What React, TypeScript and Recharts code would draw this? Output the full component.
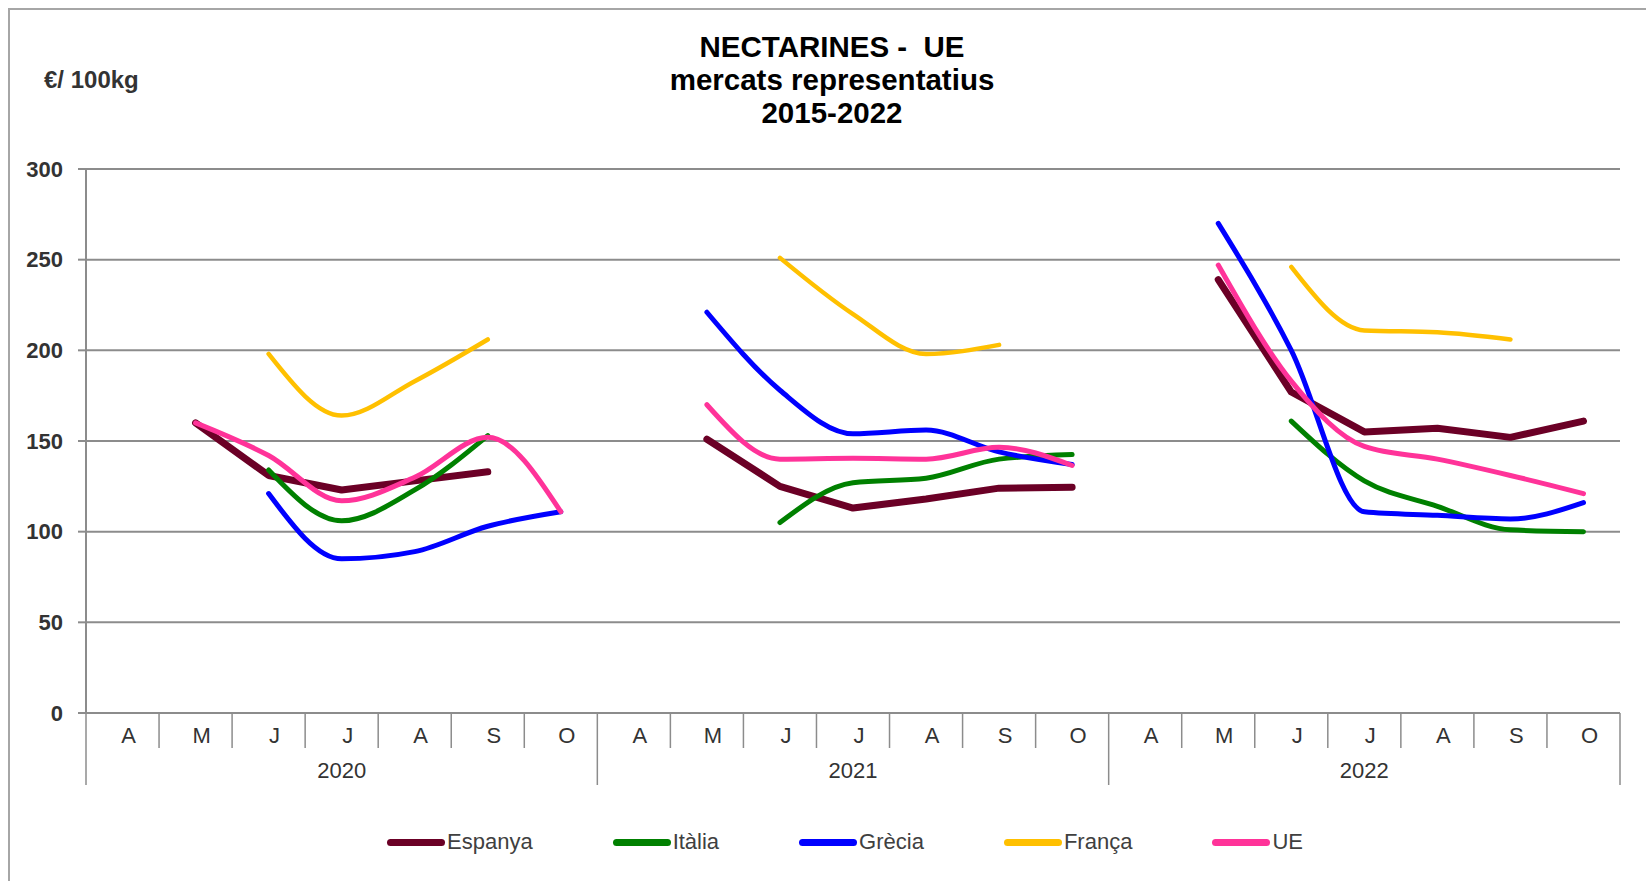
import { CartesianGrid, Line, LineChart, XAxis, YAxis } from "recharts";

// categories: 3 campaigns x 7 months (April..October)
const years = ["2020", "2021", "2022"];
const months = ["A", "M", "J", "J", "A", "S", "O"];

// € / 100kg, null = no quotation that month
const espanya = [null, 160, 131, 123, 128, 133, null, null, 151, 125, 113, 118, 124, 124.5, null, 239, 177, 155, 157, 152, 161];
const italia = [null, null, 134, 106, 123, 153, null, null, null, 105, 127, 129.5, 140, 142.5, null, null, 161, 128, 114, 101, 100];
const grecia = [null, null, 121, 85, 89, 103, 111, null, 221, 178, 154, 156, 144, 137, null, 270, 200, 111, 109, 107, 116];
const franca = [null, null, 198, 164, 183, 206, null, null, null, 251, 220, 198, 203, null, null, null, 246, 211, 210, 206, null];
const ue = [null, 160, 142, 117, 130, 152, 111, null, 170, 140, 140.5, 140, 146.5, 136.5, null, 247, 183, 147, 140, 131, 121];

const yTicks = [0, 50, 100, 150, 200, 250, 300];

const series = [
  { key: "espanya", name: "Espanya", color: "#6b0026", width: 7, type: "linear" as const },
  { key: "italia", name: "Itàlia", color: "#008000", width: 5, type: "monotone" as const },
  { key: "grecia", name: "Grècia", color: "#0000ff", width: 5, type: "monotone" as const },
  { key: "franca", name: "França", color: "#ffc000", width: 4.5, type: "monotone" as const },
  { key: "ue", name: "UE", color: "#ff3399", width: 5, type: "monotone" as const },
];

const data = years.flatMap((year, yi) =>
  months.map((month, mi) => {
    const i = yi * months.length + mi;
    return {
      year,
      month,
      espanya: espanya[i],
      italia: italia[i],
      grecia: grecia[i],
      franca: franca[i],
      ue: ue[i],
    };
  })
);

const FONT = '"Liberation Sans", Arial, sans-serif';
const AXIS_GRAY = "#8c8c8c";
const W = 1646;
const H = 881;
const PLOT_LEFT = 86;
const PLOT_RIGHT = 1620;
const PLOT_TOP = 169;
const PLOT_BOTTOM = 713;
const BAND = (PLOT_RIGHT - PLOT_LEFT) / data.length;
const X_AXIS_H = 80;

function MonthTick(props: any) {
  const { x, y, payload } = props;
  const i = payload.index as number;
  const left = x - BAND / 2;
  const right = x + BAND / 2;
  const last = i === data.length - 1;
  const yearStart = i % months.length === 0;
  return (
    <g>
      <line x1={left} x2={left} y1={y} y2={y + (yearStart ? 72 : 35)} stroke={AXIS_GRAY} strokeWidth={1.5} />
      {last && <line x1={right} x2={right} y1={y} y2={y + 72} stroke={AXIS_GRAY} strokeWidth={1.5} />}
      <text x={x + 6} y={y + 30} textAnchor="middle" fontSize={22} fill="#333" fontFamily={FONT}>
        {payload.value}
      </text>
      {i % months.length === 3 && (
        <text x={x} y={y + 65} textAnchor="middle" fontSize={22} fill="#333" fontFamily={FONT}>
          {data[i].year}
        </text>
      )}
    </g>
  );
}

export default function App() {
  return (
    <div style={{ position: "absolute", left: 0, top: 0, width: W, height: H, overflow: "hidden", background: "#fff", fontFamily: FONT }}>
      <div style={{ position: "absolute", left: 8, top: 8, width: W + 20, height: H + 20, border: "2px solid #a6a6a6" }} />
      <div style={{ position: "absolute", left: 0, width: W, top: 30, textAlign: "center", paddingLeft: 18, boxSizing: "border-box", fontWeight: "bold", fontSize: 29.5, lineHeight: "33px", color: "#000" }}>
        <div style={{ whiteSpace: "pre" }}>NECTARINES -  UE</div>
        <div>mercats representatius</div>
        <div>2015-2022</div>
      </div>
      <div style={{ position: "absolute", left: 44, top: 66, fontWeight: "bold", fontSize: 24, color: "#333", whiteSpace: "pre" }}>
        €/ 100kg
      </div>
      <div style={{ position: "absolute", left: 0, top: 0 }}>
        <LineChart
          width={W}
          height={H}
          data={data}
          margin={{ top: PLOT_TOP, right: W - PLOT_RIGHT, bottom: H - PLOT_BOTTOM - X_AXIS_H, left: 0 }}
        >
          <CartesianGrid vertical={false} stroke={AXIS_GRAY} strokeWidth={2} />
          <XAxis
            dataKey="month"
            interval={0}
            height={X_AXIS_H}
            tickSize={0}
            tickMargin={0}
            tickLine={false}
            padding={{ left: BAND / 2, right: BAND / 2 }}
            axisLine={{ stroke: AXIS_GRAY, strokeWidth: 2 }}
            tick={<MonthTick />}
          />
          <YAxis
            width={PLOT_LEFT}
            domain={[0, 300]}
            ticks={yTicks}
            interval={0}
            tickSize={8}
            tickMargin={15}
            tickLine={{ stroke: AXIS_GRAY, strokeWidth: 2 }}
            axisLine={{ stroke: AXIS_GRAY, strokeWidth: 2 }}
            tick={{ fontSize: 22, fontWeight: "bold", fill: "#333", fontFamily: FONT }}
          />
          {series.map((s) => (
            <Line
              key={s.key}
              dataKey={s.key}
              name={s.name}
              type={s.type}
              stroke={s.color}
              strokeWidth={s.width}
              strokeLinecap="round"
              strokeLinejoin="round"
              dot={false}
              activeDot={false}
              isAnimationActive={false}
            />
          ))}
        </LineChart>
      </div>
      <div style={{ position: "absolute", left: 387, top: 828, display: "flex", gap: 80, fontSize: 22, color: "#404040", lineHeight: "28px" }}>
        {series.map((s) => (
          <div key={s.key} style={{ display: "flex", alignItems: "center" }}>
            <div style={{ width: 58, height: 7, borderRadius: 4, background: s.color, marginRight: 2 }} />
            <span>{s.name}</span>
          </div>
        ))}
      </div>
    </div>
  );
}
